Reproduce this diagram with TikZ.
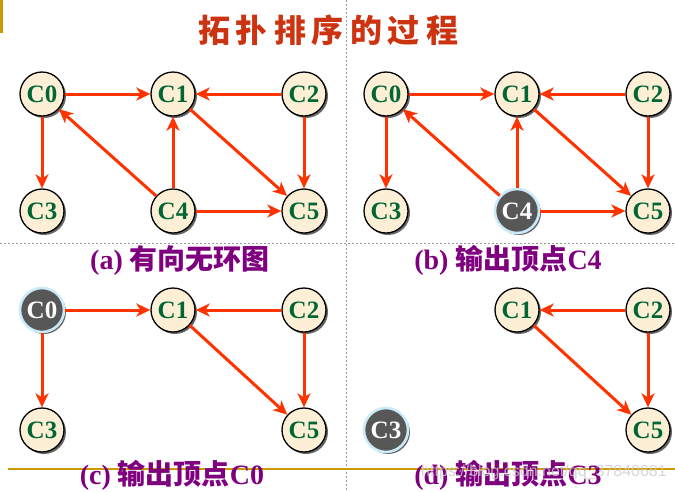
\documentclass[tikz,border=0pt]{standalone}
\usepackage{fontspec}
\setmainfont{Liberation Serif}
\setsansfont{Liberation Sans}
\newfontfamily\cjk{Noto Sans CJK SC}
\newcommand{\zh}[1]{{\cjk #1}}
\usetikzlibrary{arrows.meta, shadows}

\definecolor{nodefill}{HTML}{FCEFD6}
\definecolor{vgreen}{HTML}{006633}
\definecolor{arcred}{HTML}{FF3300}
\definecolor{capurple}{HTML}{7F007F}
\definecolor{titlered}{HTML}{CC3311}
\definecolor{gold}{HTML}{CC9900}
\definecolor{outgray}{HTML}{575757}
\definecolor{outblue}{HTML}{CCEBFA}

\begin{document}
\begin{tikzpicture}[x=1pt, y=-1pt,
    vtx/.style={circle, draw, line width=1.3pt, fill=nodefill,
        minimum size=44pt, inner sep=0pt, text=vgreen,
        font=\fontsize{25}{25}\selectfont\bfseries,
        drop shadow={shadow xshift=2pt, shadow yshift=-2pt,
            fill=black!60, opacity=1}},
    outvtx/.style={vtx, fill=outgray, draw=outblue, line width=2.6pt,
        text=white},
    edgearrow/.style={-{Stealth[length=14pt, width=13pt, inset=4pt]},
        line width=3pt, draw=arcred},
    captext/.style={text=capurple, font=\fontsize{28}{28}\selectfont\bfseries},
    sepline/.style={draw=black!40, dash pattern=on 2pt off 2pt, line width=0.7pt}]
    \useasboundingbox (0,0) rectangle (675,491);

    % frame
    \fill[gold] (0,0) rectangle (2.5,33);
    \draw[sepline] (346,0) -- (346,491);
    \draw[sepline] (0,243) -- (675,243);
    \draw[gold, line width=1.5pt] (8,469) -- (675,469);

    \node (title) at (328,30) [text=titlered,
        font=\fontsize{32}{32}\selectfont\cjk\bfseries]
        {拓\hspace{6pt}扑\hspace{6pt}排\hspace{6pt}序\hspace{6pt}的\hspace{6pt}过\hspace{6pt}程};

    % (a)
    \node[vtx] (a0) at (42,94) {C0};
    \node[vtx] (a1) at (173,94) {C1};
    \node[vtx] (a2) at (304,94) {C2};
    \node[vtx] (a3) at (42,211) {C3};
    \node[vtx] (a4) at (173,211) {C4};
    \node[vtx] (a5) at (304,211) {C5};
    \draw[edgearrow] (a0) -- (a1);
    \draw[edgearrow] (a2) -- (a1);
    \draw[edgearrow] (a0) -- (a3);
    \draw[edgearrow] (a4) -- (a0);
    \draw[edgearrow] (a4) -- (a1);
    \draw[edgearrow] (a1) -- (a5);
    \draw[edgearrow] (a2) -- (a5);
    \draw[edgearrow] (a4) -- (a5);
    \node[captext] (capa) at (180,260) {(a) \zh{有向无环图}};

    % (b)
    \node[vtx] (b0) at (386,94) {C0};
    \node[vtx] (b1) at (517,94) {C1};
    \node[vtx] (b2) at (648,94) {C2};
    \node[vtx] (b3) at (386,211) {C3};
    \node[outvtx] (b4) at (517,211) {C4};
    \node[vtx] (b5) at (648,211) {C5};
    \draw[edgearrow] (b0) -- (b1);
    \draw[edgearrow] (b2) -- (b1);
    \draw[edgearrow] (b0) -- (b3);
    \draw[edgearrow] (b4) -- (b0);
    \draw[edgearrow] (b4) -- (b1);
    \draw[edgearrow] (b1) -- (b5);
    \draw[edgearrow] (b2) -- (b5);
    \draw[edgearrow] (b4) -- (b5);
    \node[captext] (capb) at (508,260) {(b) \zh{输出顶点}C4};

    % (c)
    \node[outvtx] (c0) at (42,310) {C0};
    \node[vtx] (c1) at (173,310) {C1};
    \node[vtx] (c2) at (304,310) {C2};
    \node[vtx] (c3) at (42,430) {C3};
    \node[vtx] (c5) at (304,430) {C5};
    \draw[edgearrow] (c0) -- (c1);
    \draw[edgearrow] (c2) -- (c1);
    \draw[edgearrow] (c0) -- (c3);
    \draw[edgearrow] (c1) -- (c5);
    \draw[edgearrow] (c2) -- (c5);
    \node[captext] (capc) at (172,475) {(c) \zh{输出顶点}C0};

    % (d)
    \node[vtx] (d1) at (517,310) {C1};
    \node[vtx] (d2) at (648,310) {C2};
    \node[outvtx] (d3) at (386,430) {C3};
    \node[vtx] (d5) at (648,430) {C5};
    \draw[edgearrow] (d2) -- (d1);
    \draw[edgearrow] (d1) -- (d5);
    \draw[edgearrow] (d2) -- (d5);
    \node[captext] (capd) at (508,475) {(d) \zh{输出顶点}C3};

    \node (mark) at (544,472) [text=black!20, opacity=0.8,
        font=\sffamily\fontsize{16}{16}\selectfont]
        {https://blog.csdn.net/qq\_37840681};
\end{tikzpicture}
\end{document}
